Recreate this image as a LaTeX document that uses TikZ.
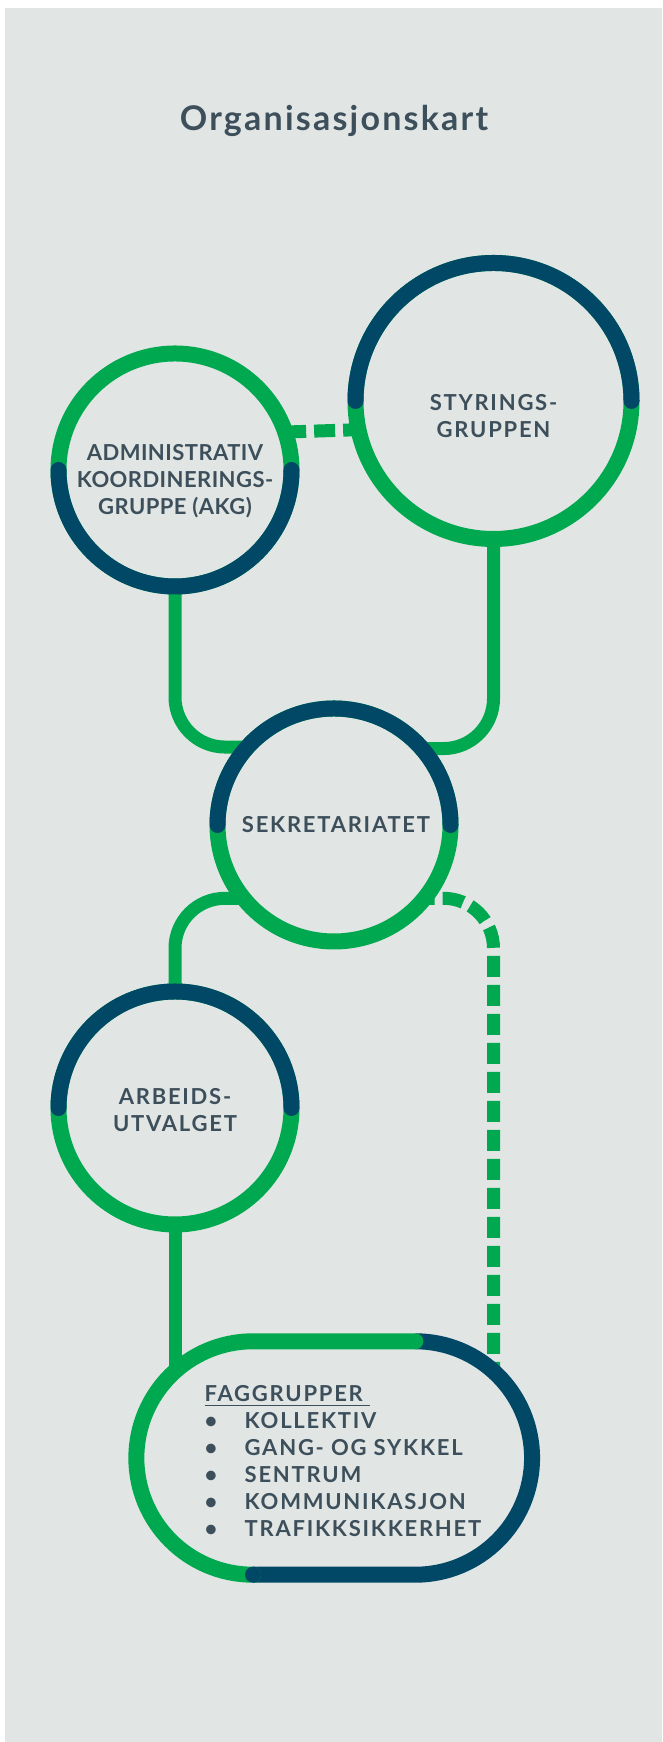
\documentclass[tikz,border=0pt]{standalone}
\usepackage{fontspec}
\setmainfont{Lato}
\newfontfamily\lblfont[LetterSpace=8]{Lato}
\newfontfamily\akgfont[LetterSpace=2]{Lato}
\newfontfamily\ttlfont[LetterSpace=6.5]{Lato}
\definecolor{bgc}{RGB}{225,230,229}
\definecolor{grn}{RGB}{0,169,79}
\definecolor{nvy}{RGB}{0,72,101}
\definecolor{txt}{RGB}{61,79,91}
\begin{document}
\begin{tikzpicture}[x=1pt,y=1pt,
    ring/.style={circle,inner sep=0pt,outer sep=0pt},
    lbl/.style={text=txt,align=center,font=\lblfont\bfseries\fontsize{22}{27}\selectfont},
    grnring/.style={draw=grn,line width=16pt},
    nvyring/.style={draw=nvy,line width=16pt,line cap=round},
    link/.style={draw=grn,line width=13pt,rounded corners=50pt},
    dlink/.style={link,dash pattern=on 21pt off 8pt}]
        %page and background
        \useasboundingbox (0,0) rectangle (662,1742);
        \fill[bgc] (5,0) rectangle (662,1734);

        \node[text=txt,font=\ttlfont\bfseries\fontsize{34}{40}\selectfont,anchor=base] (title) at (334,1611) {Organisasjonskart};

        %the groups
        \node[ring,minimum size=233pt] (akg) at (175,1272) {};
        \node[ring,minimum size=276pt] (styr) at (493.5,1341) {};
        \node[ring,minimum size=233pt] (sek) at (334,917) {};
        \node[ring,minimum size=233pt] (au) at (175,634) {};
        \node[rectangle,inner sep=0pt,outer sep=0pt,minimum width=395.7pt,minimum height=233.4pt] (fag) at (334.2,284) {};

        %connections
        \draw[link] (akg.south) |- (sek.138.6);
        \draw[link] (styr.south) |- (sek.41.4);
        \draw[link] (sek.219.4) -| (au.north);
        \draw[link] (au.south) -- (au.south |- fag.center);
        \draw[dlink,dash phase=11pt] (sek.-39.4) -| (styr.south |- fag.center);
        \draw[dlink] (akg.19.6) -- (styr.192.6);

        %rings
        \draw[grnring] (akg) circle[radius=116.5pt];
        \draw[nvyring] (akg.west) arc[start angle=180,end angle=360,radius=116.5pt];
        \draw[grnring] (styr) circle[radius=138pt];
        \draw[nvyring] (styr.east) arc[start angle=0,end angle=180,radius=138pt];
        \draw[grnring] (sek) circle[radius=116.5pt];
        \draw[nvyring] (sek.east) arc[start angle=0,end angle=180,radius=116.5pt];
        \draw[grnring] (au) circle[radius=116.5pt];
        \draw[nvyring] (au.east) arc[start angle=0,end angle=180,radius=116.5pt];

        %faggrupper outline
        \fill[bgc,rounded corners=116.7pt] (fag.south west) rectangle (fag.north east);
        \draw[draw=nvy,line width=16pt] ([xshift=-116.7pt]fag.north east) arc[start angle=90,end angle=-90,radius=116.7pt] -- ([xshift=116.7pt]fag.south west);
        \draw[grnring,line cap=round] ([xshift=116.7pt]fag.south west) arc[start angle=270,end angle=90,radius=116.7pt] -- ([xshift=-116.7pt]fag.north east);
        \fill[nvy] ([xshift=116.7pt]fag.south west) circle[radius=8pt];

        %labels
        \node[lbl,font=\akgfont\bfseries\fontsize{22}{27}\selectfont] (akgtxt) at ([yshift=-11.5pt]akg) {ADMINISTRATIV\\KOORDINERINGS-\\GRUPPE (AKG)};
        \node[lbl] (styrtxt) at ([yshift=-15pt]styr) {STYRINGS-\\GRUPPEN};
        \node[lbl] (sektxt) at ([xshift=2pt]sek) {SEKRETARIATET};
        \node[lbl] (autxt) at ([yshift=-2pt]au) {ARBEIDS-\\UTVALGET};
        \node[lbl,align=left,anchor=west,inner sep=0pt] (fagtxt) at (204.5,281) {\makebox[0pt][l]{\rule[-4.5pt]{165pt}{1.4pt}}FAGGRUPPER\\
            \makebox[40pt][l]{\textbullet}KOLLEKTIV\\
            \makebox[40pt][l]{\textbullet}GANG- OG SYKKEL\\
            \makebox[40pt][l]{\textbullet}SENTRUM\\
            \makebox[40pt][l]{\textbullet}KOMMUNIKASJON\\
            \makebox[40pt][l]{\textbullet}TRAFIKKSIKKERHET};
\end{tikzpicture}
\end{document}
